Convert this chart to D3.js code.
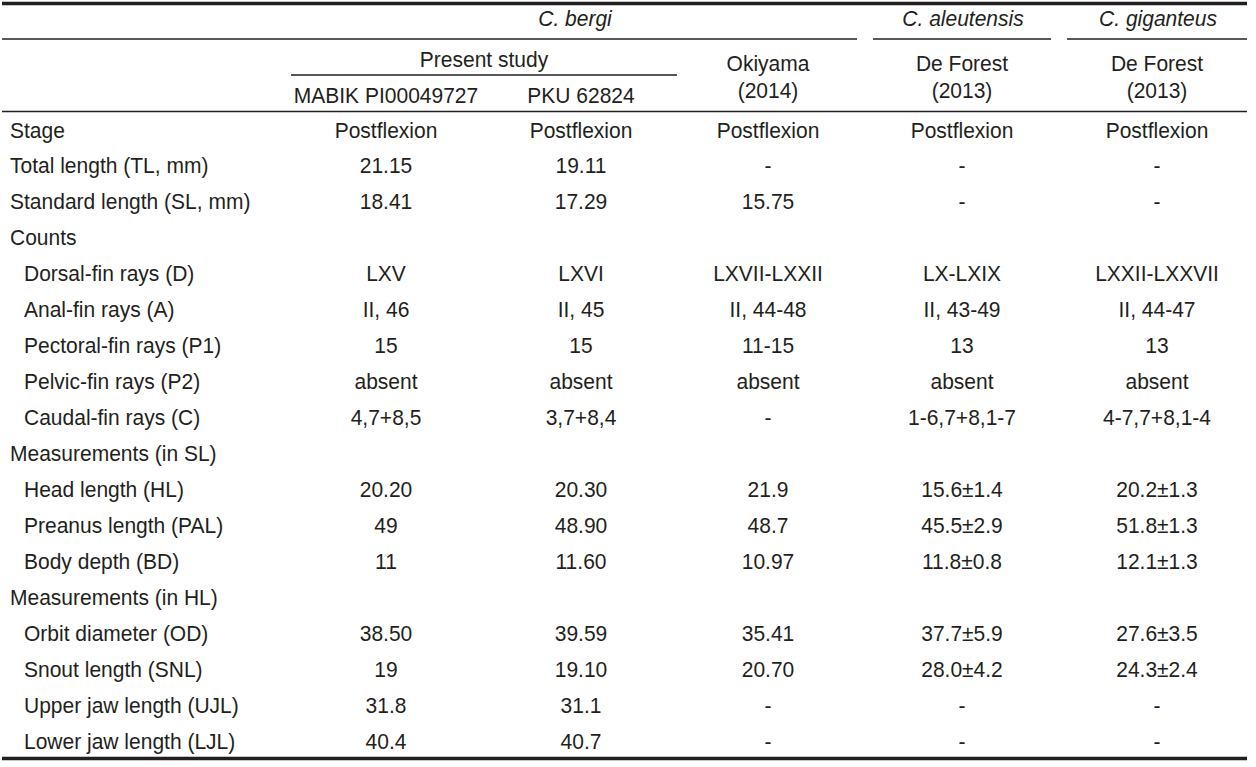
<!DOCTYPE html>
<html>
<head>
<meta charset="utf-8">
<script src="https://cdn.jsdelivr.net/npm/d3@7"></script>
<style>
  html, body { margin: 0; padding: 0; background: #fff; }
  svg { display: block; }
  text { font-family: "Liberation Sans", Arial, sans-serif; font-size: 22px; fill: #231f20; }
</style>
</head>
<body>
<svg id="chart" width="1256" height="767"></svg>
<script>
// ---- data ----
const rowLabels = [
  "Stage", "Total length (TL, mm)", "Standard length (SL, mm)", "Counts",
  "Dorsal-fin rays (D)", "Anal-fin rays (A)", "Pectoral-fin rays (P1)", "Pelvic-fin rays (P2)", "Caudal-fin rays (C)",
  "Measurements (in SL)", "Head length (HL)", "Preanus length (PAL)", "Body depth (BD)",
  "Measurements (in HL)", "Orbit diameter (OD)", "Snout length (SNL)", "Upper jaw length (UJL)", "Lower jaw length (LJL)"
];
const rowIndent = [0,0,0,0, 1,1,1,1,1, 0,1,1,1, 0,1,1,1,1];
const colKeys = ["mabik", "pku", "okiyama", "aleutensis", "giganteus"];
const mabik = ["Postflexion","21.15","18.41","", "LXV","II, 46","15","absent","4,7+8,5", "","20.20","49","11", "","38.50","19","31.8","40.4"];
const pku = ["Postflexion","19.11","17.29","", "LXVI","II, 45","15","absent","3,7+8,4", "","20.30","48.90","11.60", "","39.59","19.10","31.1","40.7"];
const okiyama = ["Postflexion","-","15.75","", "LXVII-LXXII","II, 44-48","11-15","absent","-", "","21.9","48.7","10.97", "","35.41","20.70","-","-"];
const aleutensis = ["Postflexion","-","-","", "LX-LXIX","II, 43-49","13","absent","1-6,7+8,1-7", "","15.6±1.4","45.5±2.9","11.8±0.8", "","37.7±5.9","28.0±4.2","-","-"];
const giganteus = ["Postflexion","-","-","", "LXXII-LXXVII","II, 44-47","13","absent","4-7,7+8,1-4", "","20.2±1.3","51.8±1.3","12.1±1.3", "","27.6±3.5","24.3±2.4","-","-"];
const speciesHeaders = ["C. bergi", "C. aleutensis", "C. giganteus"];
const subHeader = "Present study";
const specimenHeaders = ["MABIK PI00049727", "PKU 62824"];
const sourceHeaders = [["Okiyama","(2014)"], ["De Forest","(2013)"], ["De Forest","(2013)"]];

// ---- layout ----
const SX = 0.955; // slightly condensed face
const svg = d3.select("#chart");
const x = d3.scaleOrdinal().domain(colKeys).range([386, 581, 768, 962, 1157]);
const y = d3.scalePoint().domain(d3.range(rowLabels.length)).range([137.5, 749]);
const cols = [mabik, pku, okiyama, aleutensis, giganteus];

function hline(x1, x2, yy, w) {
  svg.append("line").attr("x1", x1).attr("x2", x2).attr("y1", yy).attr("y2", yy)
    .attr("stroke", "#231f20").attr("stroke-width", w);
}
function txt(sel, xf, yf) {
  return sel.attr("transform", (d, i) => `translate(${xf(d, i)},${yf(d, i)}) scale(${SX},1)`);
}

// rules
hline(2, 1247, 3.5, 3.5);
hline(2, 857, 39, 1.4);
hline(873, 1051, 39, 1.4);
hline(1067, 1247, 39, 1.4);
hline(291, 677, 75, 1.4);
hline(2, 1247, 111.5, 1.4);
hline(2, 1247, 758.5, 3.5);

// species headers
const spX = [575, 963, 1158];
txt(svg.selectAll("text.sp").data(speciesHeaders).join("text").attr("class", "sp"),
    (d, i) => spX[i], () => 26)
  .attr("text-anchor", "middle").style("font-style", "italic").text(d => d);

txt(svg.selectAll("text.sub").data([subHeader]).join("text").attr("class", "sub"),
    () => 484, () => 67).attr("text-anchor", "middle").text(d => d);

txt(svg.selectAll("text.spec").data(specimenHeaders).join("text").attr("class", "spec"),
    (d, i) => x(colKeys[i]), () => 103)
  .attr("text-anchor", "middle").text(d => d);

sourceHeaders.forEach((s, i) => {
  txt(svg.selectAll("text.src" + i).data(s).join("text").attr("class", "src" + i),
      () => x(colKeys[i + 2]), (d, j) => j === 0 ? 71 : 98)
    .attr("text-anchor", "middle").text(d => d);
});

// row labels
txt(svg.selectAll("text.lab").data(rowLabels).join("text").attr("class", "lab"),
    (d, i) => rowIndent[i] ? 24 : 10, (d, i) => y(i))
  .text(d => d);

// cells
cols.forEach((col, ci) => {
  txt(svg.selectAll("text.c" + ci).data(col).join("text").attr("class", "c" + ci),
      () => x(colKeys[ci]), (d, i) => y(i))
    .attr("text-anchor", "middle")
    .text(d => d);
});
</script>
</body>
</html>
